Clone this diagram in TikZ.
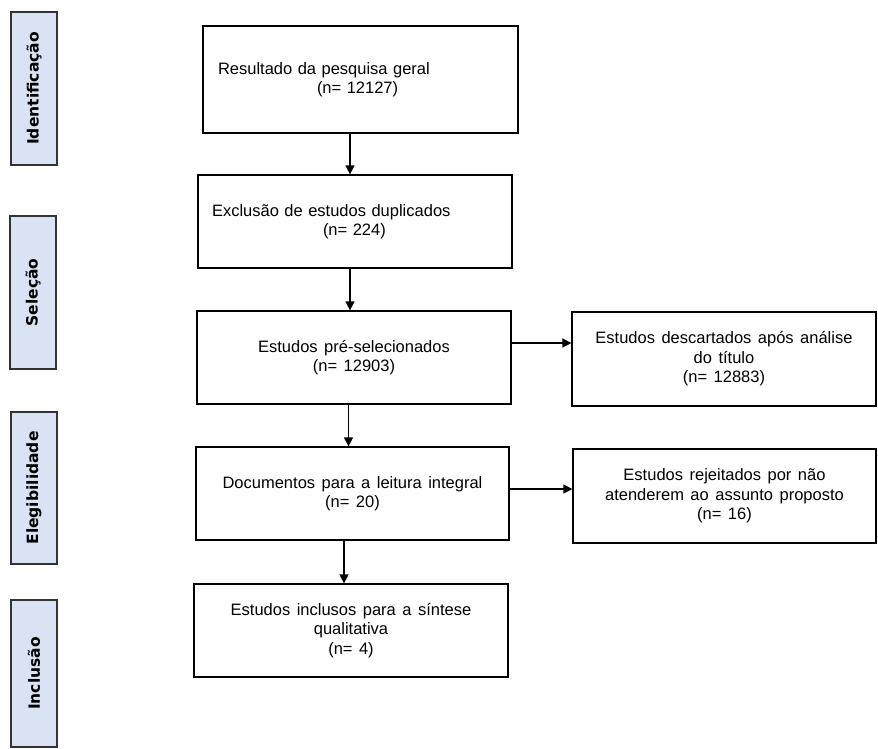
\documentclass[tikz,border=0pt]{standalone}
\usepackage{fontspec}
\setmainfont{Liberation Sans}
\newfontfamily\stagefont{DejaVu Sans}
\usetikzlibrary{arrows.meta}
\definecolor{stagefill}{HTML}{DAE3F3}
\newcommand\widespace{\spaceskip=6.5pt plus 1pt minus 0pt\relax}
\tikzset{
    flowbox/.style={draw=black, line width=1.2pt, fill=white, inner sep=0pt, align=center, font=\fontsize{16.5}{19.5}\selectfont\widespace},
    stage/.style={draw=black!80, line width=1.2pt, fill=stagefill, rotate=90, minimum height=46pt, font=\stagefont\bfseries\fontsize{15.5}{18}\selectfont},
    arr/.style={-{Triangle[length=9pt,width=9pt]}, line width=1.2pt},
}
\begin{document}
\begin{tikzpicture}[x=1pt, y=-1pt]
    \useasboundingbox (0,0) rectangle (878,748);
    % Stages
    \node[stage, minimum width=153pt] (ident) at (34,88.5) {Identificação};
    \node[stage, minimum width=153pt] (selec) at (33,292.5) {Seleção};
    \node[stage, minimum width=152pt] (eleg) at (34,488) {Elegibilidade};
    \node[stage, minimum width=147pt] (incl) at (34,673.5) {Inclusão};

    % Main column
    \node[flowbox, align=left, inner xsep=15pt, text width=285pt, minimum height=107pt] (res) at (360.5,79.5) {Resultado da pesquisa geral\\\hspace*{99pt}(n= 12127)};
    \node[flowbox, align=left, inner xsep=14pt, text width=286pt, minimum height=93pt] (dup) at (355,221.5) {Exclusão de estudos duplicados\\\hspace*{111pt}(n= 224)};
    \node[flowbox, minimum width=314pt, minimum height=93pt] (presel) at (354,357.5) {Estudos pré-selecionados\\(n= 12903)};
    \node[flowbox, minimum width=313pt, minimum height=93pt] (leit) at (352.5,493.5) {Documentos para a leitura integral\\(n= 20)};
    \node[flowbox, minimum width=314pt, minimum height=93pt] (incl5) at (351,630.5) {Estudos inclusos para a síntese\\qualitativa\\(n= 4)};

    % Side boxes
    \node[flowbox, minimum width=304pt, minimum height=94pt] (desc) at (724,359) {Estudos descartados após análise\\do título\\(n= 12883)};
    \node[flowbox, minimum width=303pt, minimum height=94pt] (rej) at (724.5,496) {Estudos rejeitados por não\\atenderem ao assunto proposto\\(n= 16)};

    \draw[arr] ([xshift=-10.5pt]res.south) -- ([xshift=-10.5pt]res.south |- dup.north);
    \draw[arr] ([xshift=-5pt]dup.south) -- ([xshift=-5pt]dup.south |- presel.north);
    \draw[arr] ([xshift=-5.5pt]presel.south) -- ([xshift=-5.5pt]presel.south |- leit.north);
    \draw[arr] ([xshift=-8.5pt]leit.south) -- ([xshift=-8.5pt]leit.south |- incl5.north);
    \draw[arr] ([yshift=14.5pt]presel.east) -- ([yshift=14.5pt]presel.east -| desc.west);
    \draw[arr] ([yshift=4.5pt]leit.east) -- ([yshift=4.5pt]leit.east -| rej.west);
\end{tikzpicture}
\end{document}
